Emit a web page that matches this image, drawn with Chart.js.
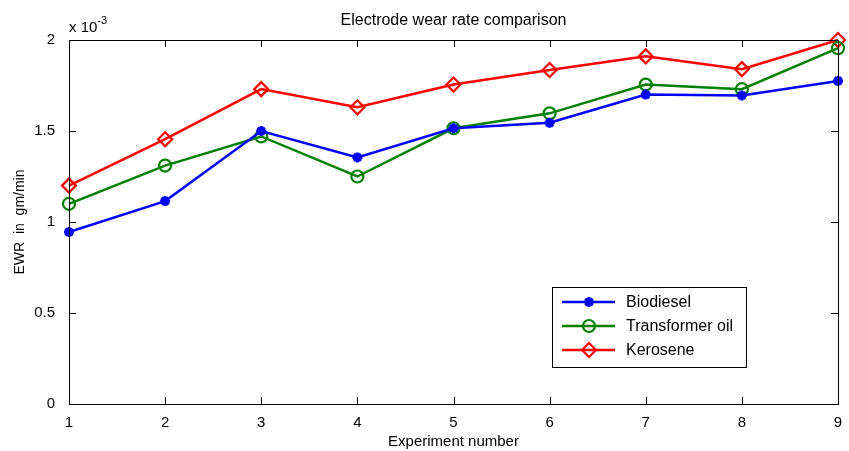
<!DOCTYPE html>
<html>
<head>
<meta charset="utf-8">
<script src="https://cdn.jsdelivr.net/npm/chart.js@4/dist/chart.umd.min.js"></script>
<style>
  html, body { margin: 0; padding: 0; background: #fff; }
  #wrap { width: 849px; height: 451px; }
</style>
</head>
<body>
<div id="wrap"><canvas id="ewrChart" width="849" height="451"></canvas></div>
<script>
// experiment numbers on the x axis
const experiments = [1, 2, 3, 4, 5, 6, 7, 8, 9];
// electrode wear rate, in units of 1e-3 gm/min
const biodiesel = [0.945, 1.115, 1.50, 1.355, 1.515, 1.545, 1.70, 1.695, 1.775];
const transformerOil = [1.10, 1.31, 1.47, 1.25, 1.515, 1.597, 1.755, 1.73, 1.955];
const kerosene = [1.20, 1.455, 1.73, 1.63, 1.755, 1.835, 1.91, 1.84, 2.0];
const yTicks = [0, 0.5, 1, 1.5, 2];
const seriesNames = ['Biodiesel', 'Transformer oil', 'Kerosene'];

const FONT = '"Liberation Sans", Arial, Helvetica, sans-serif';

// MATLAB style frame: box, inward ticks, title, exponent label, legend box
const matlabFrame = {
    id: 'matlabFrame',
    afterDatasetsDraw(chart) {
        const { ctx, chartArea: a, scales } = chart;
        ctx.save();
        ctx.strokeStyle = '#000';
        ctx.lineWidth = 1;
        ctx.strokeRect(a.left + 0.5, a.top + 0.5, a.right - a.left, a.bottom - a.top);

        const tick = 7;
        ctx.beginPath();
        experiments.forEach(v => {
            const x = Math.round(scales.x.getPixelForValue(v)) + 0.5;
            ctx.moveTo(x, a.bottom); ctx.lineTo(x, a.bottom - tick);
            ctx.moveTo(x, a.top); ctx.lineTo(x, a.top + tick);
        });
        yTicks.forEach(v => {
            const y = Math.round(scales.y.getPixelForValue(v)) + 0.5;
            ctx.moveTo(a.left, y); ctx.lineTo(a.left + tick, y);
            ctx.moveTo(a.right, y); ctx.lineTo(a.right - tick, y);
        });
        ctx.stroke();

        // title
        ctx.fillStyle = '#000';
        ctx.font = '16px ' + FONT;
        ctx.textAlign = 'center';
        ctx.textBaseline = 'middle';
        ctx.fillText('Electrode wear rate comparison', (a.left + a.right) / 2, 21);

        // exponent label
        ctx.textAlign = 'left';
        ctx.textBaseline = 'alphabetic';
        ctx.font = '15px ' + FONT;
        ctx.fillText('x 10', a.left, 32);
        const w = ctx.measureText('x 10').width;
        ctx.font = '11px ' + FONT;
        ctx.fillText('-3', a.left + w, 24);

        // legend box
        const lx = a.right - 286, ly = a.bottom - 117, lw = 194, lh = 80;
        ctx.fillStyle = '#fff';
        ctx.fillRect(lx, ly, lw, lh);
        ctx.lineWidth = 1;
        ctx.strokeStyle = '#000';
        ctx.strokeRect(lx + 0.5, ly + 0.5, lw, lh);
        chart.data.datasets.forEach((ds, i) => {
            const y = ly + 15 + i * 24;
            ctx.strokeStyle = ds.borderColor;
            ctx.lineWidth = 2.5;
            ctx.beginPath();
            ctx.moveTo(lx + 10, y); ctx.lineTo(lx + 63, y);
            ctx.stroke();
            ctx.lineWidth = ds.pointBorderWidth;
            ctx.fillStyle = ds.pointBackgroundColor;
            ctx.strokeStyle = ds.pointBorderColor;
            Chart.helpers.drawPoint(ctx, {
                pointStyle: ds.pointStyle, radius: ds.pointRadius, rotation: 0, borderWidth: ds.pointBorderWidth
            }, lx + 37, y);
            ctx.fillStyle = '#000';
            ctx.font = '16px ' + FONT;
            ctx.textBaseline = 'middle';
            ctx.fillText(ds.label, lx + 74, y + 1);
        });
        ctx.restore();
    }
};

new Chart(document.getElementById('ewrChart'), {
    type: 'line',
    data: {
        datasets: [
            {
                label: seriesNames[0],
                data: experiments.map((x, i) => ({ x, y: biodiesel[i] })),
                borderColor: '#0000ff',
                backgroundColor: '#0000ff',
                pointStyle: 'star',
                pointRadius: 5,
                pointBorderWidth: 3
            },
            {
                label: seriesNames[1],
                data: experiments.map((x, i) => ({ x, y: transformerOil[i] })),
                borderColor: '#008000',
                backgroundColor: 'rgba(0,0,0,0)',
                pointStyle: 'circle',
                pointRadius: 6,
                pointBorderWidth: 2.2
            },
            {
                label: seriesNames[2],
                data: experiments.map((x, i) => ({ x, y: kerosene[i] })),
                borderColor: '#ff0000',
                backgroundColor: 'rgba(0,0,0,0)',
                pointStyle: 'rectRot',
                pointRadius: 7,
                pointBorderWidth: 2.2
            }
        ].map(ds => Object.assign(ds, {
            borderWidth: 2.5,
            tension: 0,
            fill: false,
            pointBackgroundColor: ds.backgroundColor,
            pointBorderColor: ds.borderColor,
            pointHoverRadius: ds.pointRadius
        }))
    },
    options: {
        responsive: false,
        animation: false,
        clip: false,
        layout: { padding: { top: 40, right: 11, left: 0, bottom: 0 } },
        plugins: {
            legend: { display: false },
            title: { display: false },
            tooltip: { enabled: false }
        },
        scales: {
            x: {
                type: 'linear',
                min: 1,
                max: 9,
                afterFit: s => { s.height = 47; },
                afterBuildTicks: s => { s.ticks = experiments.map(v => ({ value: v })); },
                grid: { display: false },
                border: { display: false },
                ticks: { color: '#000', font: { family: FONT, size: 15 }, padding: 2, maxRotation: 0 },
                title: { display: true, text: 'Experiment number', color: '#000', font: { family: FONT, size: 15 }, padding: { top: 2, bottom: 0 } }
            },
            y: {
                min: 0,
                max: 2,
                afterFit: s => { s.width = 69; },
                afterBuildTicks: s => { s.ticks = yTicks.map(v => ({ value: v })); },
                grid: { display: false },
                border: { display: false },
                ticks: { color: '#000', font: { family: FONT, size: 15 }, padding: 6, callback: v => String(v) },
                title: { display: true, text: 'EWR  in  gm/min', color: '#000', font: { family: FONT, size: 14 }, padding: { top: 12, bottom: 0 } }
            }
        }
    },
    plugins: [matlabFrame]
});
</script>
</body>
</html>
